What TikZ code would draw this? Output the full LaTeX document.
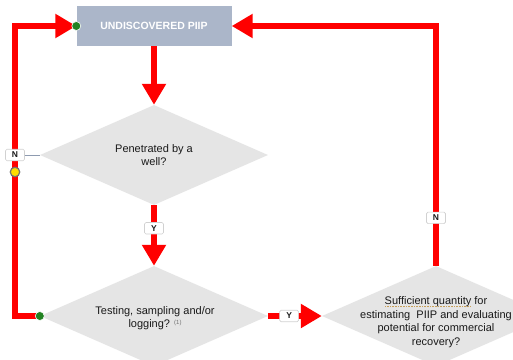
\documentclass[tikz,border=0pt]{standalone}
\usepackage{fontspec}
\setmainfont{Liberation Sans}
\usetikzlibrary{arrows.meta,shapes.geometric}

\definecolor{flowred}{RGB}{255,0,0}
\definecolor{boxblue}{RGB}{171,182,201}
\definecolor{decgrey}{RGB}{229,229,229}
\definecolor{linkgrey}{RGB}{142,155,176}
\definecolor{dotgreen}{RGB}{34,130,34}
\definecolor{dotyellow}{RGB}{255,221,0}
\definecolor{txt}{RGB}{25,25,25}
\definecolor{squigcol}{RGB}{200,160,90}

% dotted underline under a piece of text
\newcommand\dotunder[1]{\setbox0\hbox{#1}\leavevmode\rlap{\color{squigcol}\raisebox{-2.4pt}{\hbox to \wd0{\leaders\hbox to 1.6pt{\hss\vrule width 0.8pt height 0.8pt\hss}\hfill}}}\box0\relax}

\tikzset{
  piipbox/.style={rectangle, fill=boxblue, draw=none, minimum width=155pt, minimum height=40pt,
    inner sep=0pt, text=white, font=\bfseries\fontsize{10.5}{12}\selectfont},
  decision/.style={diamond, fill=decgrey, draw=none, inner sep=0pt, minimum width=228pt, minimum height=100pt},
  qtext/.style={align=center, text=txt, font=\fontsize{11}{13.5}\selectfont, inner sep=0pt},
  flow/.style={draw=flowred, line width=6.5pt, line join=miter},
  flowarrow/.style={flow, -{Triangle[length=21pt,width=23pt]}},
  answer/.style={fill=white, draw=black!18, line width=0.6pt, rounded corners=1.5pt, inner sep=0pt,
    minimum width=19pt, minimum height=11.5pt, text=txt, font=\bfseries\fontsize{8.5}{9}\selectfont},
  greendot/.style={circle, fill=dotgreen, draw=white, line width=0.6pt, minimum size=9pt, inner sep=0pt},
  yellowdot/.style={circle, fill=dotyellow, draw=black!55, line width=1.2pt, minimum size=9.5pt, inner sep=0pt}
}

\begin{document}
\begin{tikzpicture}[x=1pt,y=-1pt]
  \useasboundingbox (0,0) rectangle (513,359);
  \clip (0,0) rectangle (513,359);
  \fill[white] (0,0) rectangle (513,359);

  % shapes
  \node[piipbox] (piip) at (154,26) {UNDISCOVERED PIIP};
  \node[decision] (d1) at (154,155) {};
  \node[decision] (d2) at (154,316) {};
  \node[decision] (d3) at (436,316) {};

  \node[qtext] (t1) at (154,155) {Penetrated by a\\well?};
  \node[qtext] (t2) at (155,318) {Testing, sampling and/or\\logging? {\fontsize{6}{6}\selectfont\raisebox{3.5pt}{\color{black!55}(1)}}};
  \node[qtext] (t3) at (436,322) {\dotunder{Sufficient quantity} for\\estimating\ \ PIIP and evaluating\\potential for commercial\\recovery?};

  % loop corner on the left
  \coordinate (loopx) at (15,155);

  % connectors
  \draw[flowarrow] (piip.south) -- (d1.north);
  \draw[flowarrow] (d1.south) -- node[answer, pos=0.38] (y1) {Y} (d2.north);
  \draw[flowarrow] (d2.east) -- node[answer, pos=0.39] (y2) {Y} (d3.west);
  \draw[flowarrow] (d3.north) |- node[answer, pos=0.1] (n2) {N} (piip.east);
  \draw[flowarrow] (d2.west) -| (loopx) |- (piip.west);

  % "N" exit of the first question
  \node[answer] (n1) at (loopx) {N};
  \draw[linkgrey, line width=1pt] (n1.east) -- (d1.west);
  \node[yellowdot] (yd) at (15,172) {};

  % connection points
  \node[greendot] (g1) at (piip.west) {};
  \node[greendot] (g2) at (d2.west) {};
\end{tikzpicture}
\end{document}
